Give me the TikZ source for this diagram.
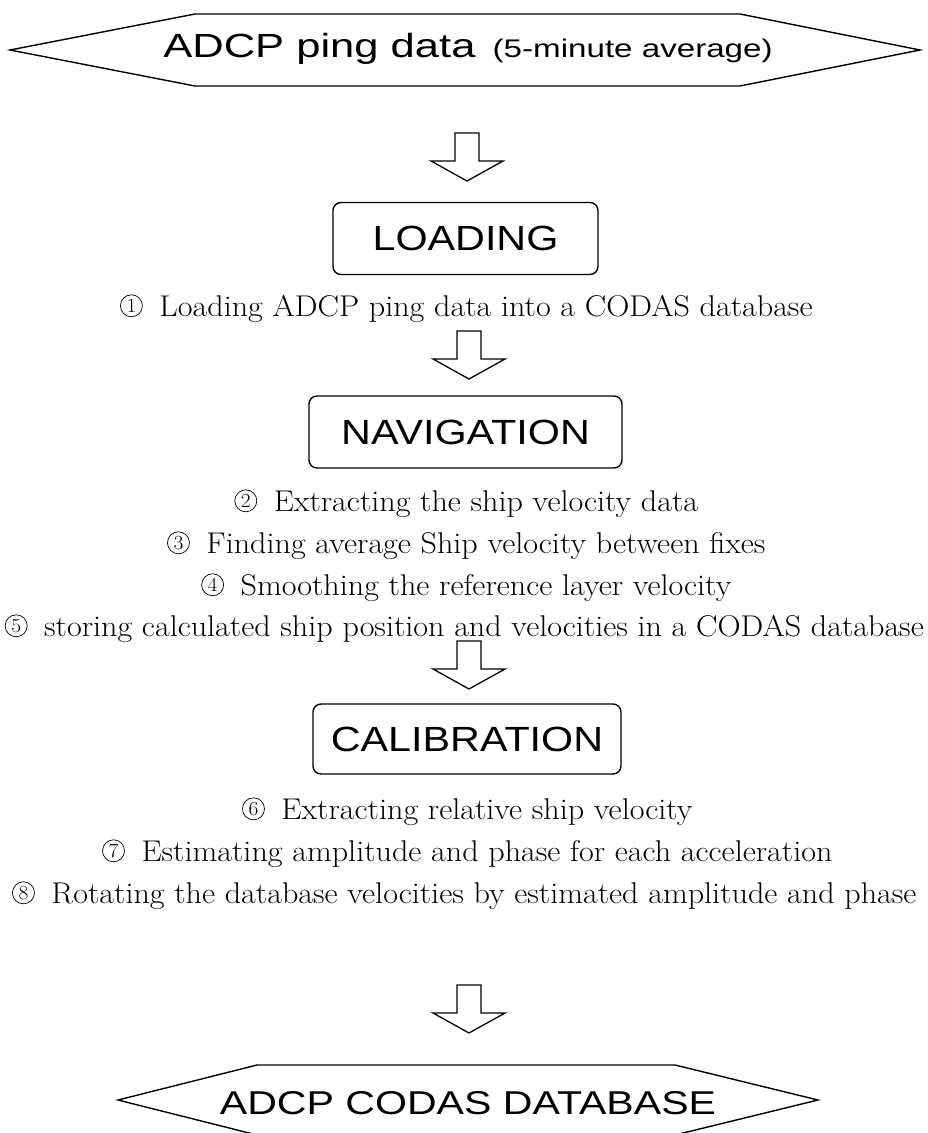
\documentclass[tikz,border=0pt]{standalone}
\usepackage{fontspec}
\setmainfont{Latin Modern Roman}[FakeStretch=1.07]
\newfontfamily\boxfont[FakeStretch=1.18]{Liberation Sans}
\newfontfamily\hexfont[FakeStretch=1.3]{Liberation Sans}
\newfontfamily\dbfont[FakeStretch=1.245]{Liberation Sans}
\newcommand\cnum[1]{\makebox[24pt]{\tikz[baseline=0pt]{\draw[line width=0.7pt] (0pt,10.2pt) circle (11pt); \node[inner sep=0pt,anchor=base] at (0pt,3.9pt) {\fontsize{20}{20}\selectfont #1};}}\hspace{16pt}}
\tikzset{
  outline/.style={draw=black, line width=1.4pt, line join=miter},
  stagebox/.style={draw=black, line width=1.4pt, rounded corners=8pt, inner sep=0pt,
     font=\boxfont\fontsize{35}{38}\selectfont},
  steptext/.style={inner sep=0pt, anchor=base, font=\fontsize{30}{33}\selectfont},
  hextext/.style={inner sep=0pt, anchor=base},
  downarrow/.pic={\draw[line width=1.3pt, line join=miter] (-12,0) -- (12,0) -- (12,28) -- (36,28) -- (0,48) -- (-36,28) -- (-12,28) -- cycle;}
}
\begin{document}
\begin{tikzpicture}[x=1pt,y=-1pt]
\useasboundingbox (0,0) rectangle (927,1133);
% top hexagon
\draw[outline] (10,50) -- (195,14) -- (740,14) -- (920,50) -- (740,86) -- (195,86) -- cycle;
\node[hextext, font=\hexfont] (src) at (468,57) {\fontsize{33.5}{36}\selectfont ADCP ping data\hspace{5pt} {\fontsize{25.5}{28}\selectfont (5-minute average)}};
% arrows
\coordinate (a1) at (467,133);
\coordinate (a2) at (469,331);
\coordinate (a3) at (469,641);
\coordinate (a4) at (469,985);
\pic at (a1) {downarrow};
\pic at (a2) {downarrow};
\pic at (a3) {downarrow};
\pic at (a4) {downarrow};
% boxes
\node[stagebox, minimum width=265pt, minimum height=72pt] (load) at (465.5,238.5) {LOADING};
\node[stagebox, minimum width=313pt, minimum height=72pt] (nav) at (465.5,432) {NAVIGATION};
\node[stagebox, minimum width=308pt, minimum height=70pt] (cal) at (467,739) {CALIBRATION};
% step texts
\node[steptext] (s1) at (466,316) {\cnum{1}Loading ADCP ping data into a CODAS database};
\node[steptext] (s2) at (466,511) {\cnum{2}Extracting the ship velocity data};
\node[steptext] (s3) at (466,553) {\cnum{3}Finding average Ship velocity between fixes};
\node[steptext] (s4) at (466,595) {\cnum{4}Smoothing the reference layer velocity};
\node[steptext] (s5) at (464,636) {\cnum{5}storing calculated ship position and velocities in a CODAS database};
\node[steptext] (s6) at (467,819) {\cnum{6}Extracting relative ship velocity};
\node[steptext] (s7) at (467,861) {\cnum{7}Estimating amplitude and phase for each acceleration};
\node[steptext] (s8) at (464,903) {\cnum{8}Rotating the database velocities by estimated amplitude and phase};
% bottom hexagon
\draw[outline] (118,1100) -- (257,1065) -- (675,1065) -- (818,1100) -- (675,1135) -- (257,1135) -- cycle;
\node[hextext, font=\dbfont] (db) at (468,1114) {\fontsize{33}{36}\selectfont ADCP CODAS DATABASE};
\end{tikzpicture}
\end{document}
